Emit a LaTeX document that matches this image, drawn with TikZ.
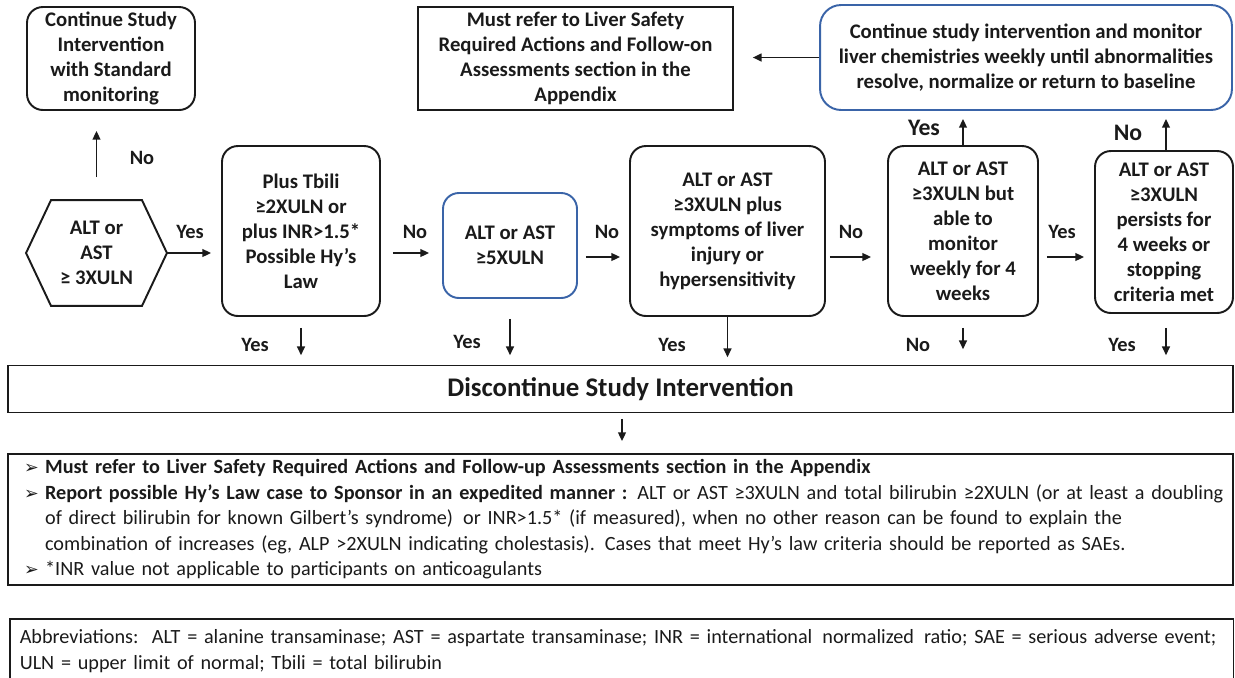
\documentclass[tikz,border=0pt]{standalone}
\usepackage{fontspec}
\setmainfont{Carlito}
\newfontfamily\symfont{DejaVu Sans}
\usetikzlibrary{arrows.meta,positioning,calc}
\definecolor{ink}{HTML}{1A1A1A}
\definecolor{edgeblue}{HTML}{3A64A8}
\newcommand{\bul}{\makebox[0.42cm][l]{\symfont\fontsize{10}{10}\selectfont ➢}}
\newcommand{\noteline}[1]{\mbox{#1}}
\tikzset{
  decision/.style={draw=ink, line width=1.1pt, rounded corners=9pt, align=center,
    text=ink, font=\bfseries\fontsize{11.8}{14.2}\selectfont, inner sep=2pt},
  bluebox/.style={decision, draw=edgeblue},
  plainbox/.style={draw=ink, line width=1pt, align=center, text=ink,
    font=\bfseries\fontsize{11.8}{14.2}\selectfont, inner sep=2pt},
  flow/.style={-{Triangle[length=5pt,width=4.5pt]}, ink, line width=0.9pt},
  ans/.style={text=ink, font=\bfseries\fontsize{11.6}{13}\selectfont},
  bigans/.style={ans, font=\bfseries\fontsize{13.5}{15}\selectfont},
  notes/.style={draw=ink, line width=0.9pt, align=left, text=ink,
    font=\fontsize{11.5}{14.5}\selectfont},
}
\begin{document}
\begin{tikzpicture}[x=0.02cm, y=-0.02cm]
  \clip (0,0) rectangle (1235,677);
  \coordinate (rowA) at (0,253);
  \coordinate (rowB) at (0,257);

  % top row
  \node[decision, minimum width=3.36cm, minimum height=2.06cm] (cont) at (111,58.5)
    {Continue Study\\Intervention\\with Standard\\monitoring};
  \node[plainbox, minimum width=6.3cm, minimum height=2.06cm] (refer) at (575.5,58.5)
    {Must refer to Liver Safety\\Required Actions and Follow-on\\Assessments section in the\\Appendix};
  \node[bluebox, rounded corners=12pt, minimum width=8.24cm, minimum height=2.1cm] (monitor) at (1026,57.5)
    {Continue study intervention and monitor\\liver chemistries weekly until abnormalities\\resolve, normalize or return to baseline};

  % decision row
  \node[decision, draw=none, minimum width=2.78cm, minimum height=2.08cm] (hex) at (96.5,253)
    {ALT or\\AST\\≥ 3XULN};
  \draw[ink, line width=1.1pt] ([xshift=0.5cm]hex.north west) -- ([xshift=-0.5cm]hex.north east)
    -- (hex.east) -- ([xshift=-0.5cm]hex.south east) -- ([xshift=0.5cm]hex.south west)
    -- (hex.west) -- cycle;
  \node[decision, minimum width=3.16cm, minimum height=3.4cm] (tbili) at (301,231)
    {Plus Tbili\\≥2XULN or\\plus INR>1.5*\\Possible Hy’s\\Law};
  \node[bluebox, minimum width=2.68cm, minimum height=2.1cm] (alt5) at (510,245.5)
    {ALT or AST\\≥5XULN};
  \node[decision, minimum width=3.9cm, minimum height=3.4cm] (symp) at (727.5,231)
    {ALT or AST\\≥3XULN plus\\symptoms of liver\\injury or\\hypersensitivity};
  \node[decision, minimum width=3.0cm, minimum height=3.4cm] (able) at (963,231)
    {ALT or AST\\≥3XULN but\\able to\\monitor\\weekly for 4\\weeks};
  \node[decision, minimum width=2.76cm, minimum height=3.24cm] (persist) at (1164,232)
    {ALT or AST\\≥3XULN\\persists for\\4 weeks or\\stopping\\criteria met};

  % discontinue bar and notes
  \node[plainbox, line width=0.9pt, minimum width=24.5cm, minimum height=0.94cm,
    font=\bfseries\fontsize{15.3}{17}\selectfont] (disc) at (620.5,389)
    {Discontinue Study Intervention};
  \node[notes, minimum width=24.5cm, minimum height=2.42cm, inner xsep=0.32cm,
    text width=23.86cm] (bullets) at (620.5,519.5)
    {\noteline{\bul\textbf{Must refer to Liver Safety Required Actions and Follow-up Assessments section in the Appendix}}\\
     \noteline{\bul\textbf{Report possible Hy’s Law case to Sponsor in an expedited manner :} ALT or AST ≥3XULN and total bilirubin ≥2XULN (or at least a doubling}\\
     \noteline{\hspace*{0.42cm}of direct bilirubin for known Gilbert’s syndrome)\, or INR>1.5* (if measured), when no other reason can be found to explain the}\\
     \noteline{\hspace*{0.42cm}combination of increases (eg, ALP >2XULN indicating cholestasis). Cases that meet Hy’s law criteria should be reported as SAEs.}\\
     \noteline{\bul*INR value not applicable to participants on anticoagulants}};
  \node[notes, anchor=north west, inner xsep=0.2cm, inner ysep=0.22cm,
    text width=24.08cm] (abbr) at (9,618)
    {\noteline{Abbreviations:\, ALT = alanine transaminase; AST = aspartate transaminase; INR = international\, normalized\, ratio; SAE = serious adverse event;}\\
     \noteline{ULN = upper limit of normal; Tbili = total bilirubin}};

  % horizontal flow
  \draw[flow, shorten >=0.2cm] (hex.east) -- (tbili.west |- hex.east);
  \draw[flow, shorten <=0.24cm, shorten >=0.26cm] (tbili.east |- rowA) -- (alt5.west |- rowA);
  \draw[flow, shorten <=0.16cm, shorten >=0.18cm] (alt5.east |- rowB) -- (symp.west |- rowB);
  \draw[flow, shorten <=0.08cm, shorten >=0.32cm] (symp.east |- rowB) -- (able.west |- rowB);
  \draw[flow, shorten <=0.16cm, shorten >=0.2cm] (able.east |- rowB) -- (persist.west |- rowB);
  \node[ans] (yes1) at (190,232) {Yes};
  \node[ans] (no1) at (415,232) {No};
  \node[ans] (no2) at (607,232) {No};
  \node[ans] (no3) at (851,232) {No};
  \node[ans] (yes2) at (1062,232) {Yes};

  % upward flow
  \draw[flow, shorten <=0.46cm, shorten >=0.4cm] (hex.north) -- (hex.north |- cont.south);
  \draw[flow, shorten >=0.16cm] (able.north) -- (able.north |- monitor.south);
  \draw[flow, shorten >=0.16cm] ([xshift=0.04cm]persist.north) -- ([xshift=0.04cm]persist.north |- monitor.south);
  \draw[flow, shorten >=0.38cm] (monitor.west) -- (refer.east |- monitor.west);
  \node[ans] (no4) at (142,158) {No};
  \node[bigans] (yes3) at (924,128) {Yes};
  \node[bigans] (no5) at (1128,133) {No};

  % downward flow
  \draw[flow, shorten <=0.22cm, shorten >=0.19cm] (tbili.south) -- (tbili.south |- disc.north);
  \draw[flow, shorten <=0.4cm, shorten >=0.19cm] (alt5.south) -- (alt5.south |- disc.north);
  \draw[flow, shorten >=0.15cm] (symp.south) -- (symp.south |- disc.north);
  \draw[flow, shorten <=0.22cm, shorten >=0.31cm] (able.south) -- (able.south |- disc.north);
  \draw[flow, shorten <=0.28cm, shorten >=0.19cm] ([xshift=0.04cm]persist.south) -- ([xshift=0.04cm]persist.south |- disc.north);
  \draw[flow, shorten <=0.11cm, shorten >=0.24cm] ([xshift=0.03cm]disc.south) -- ([xshift=0.03cm]disc.south |- bullets.north);
  \node[ans] (yes4) at (255,345) {Yes};
  \node[ans] (yes5) at (467,342) {Yes};
  \node[ans] (yes6) at (672,345) {Yes};
  \node[ans] (no6) at (918,345) {No};
  \node[ans] (yes7) at (1122,345) {Yes};
\end{tikzpicture}
\end{document}
